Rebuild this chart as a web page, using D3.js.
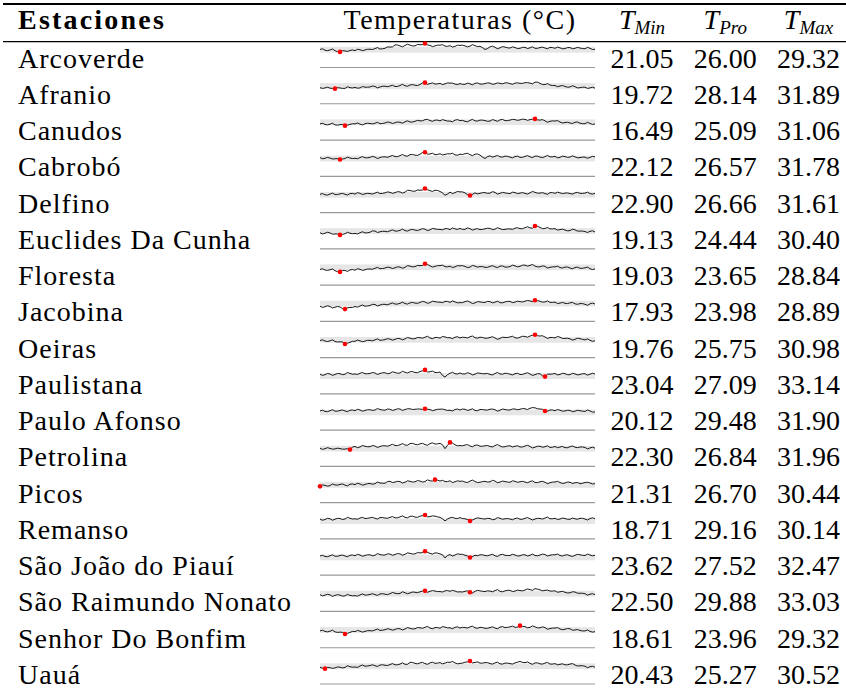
<!DOCTYPE html>
<html>
<head>
<meta charset="utf-8">
<script src="https://cdn.jsdelivr.net/npm/d3@7"></script>
<style>
  body { margin: 0; background: #fff; }
  svg { display: block; }
  text { font-family: "Liberation Serif", "Times New Roman", serif; fill: #000; }
</style>
</head>
<body>
<svg id="tbl" width="846" height="695"></svg>
<script>
const stations = ["Arcoverde", "Afranio", "Canudos", "Cabrobó", "Delfino", "Euclides Da Cunha",
	"Floresta", "Jacobina", "Oeiras", "Paulistana", "Paulo Afonso", "Petrolina", "Picos",
	"Remanso", "São João do Piauí", "São Raimundo Nonato", "Senhor Do Bonfim", "Uauá"];

const tMin = [21.05, 19.72, 16.49, 22.12, 22.90, 19.13, 19.03, 17.93, 19.76, 23.04, 20.12, 22.30, 21.31, 18.71, 23.62, 22.50, 18.61, 20.43];
const tPro = [26.00, 28.14, 25.09, 26.57, 26.66, 24.44, 23.65, 23.98, 25.75, 27.09, 29.48, 26.84, 26.70, 29.16, 27.52, 29.88, 23.96, 25.27];
const tMax = [29.32, 31.89, 31.06, 31.78, 31.61, 30.40, 28.84, 28.89, 30.98, 33.14, 31.90, 31.96, 30.44, 30.14, 32.47, 33.03, 29.32, 30.52];

// sparkline values, normalised 0..100
const series = [
	// Arcoverde
	[75,78,72,70,73,77,70,66,65,70,69,67,71,73,70,76,74,70,73,76,76,75,79,83,77,78,80,86,85,86,94,94,90,86,92,97,93,90,90,96,95,95,100,94,92,87,90,93,93,95,89,88,91,85,88,93,92,93,90,86,89,95,91,87,88,83,75,79,86,89,84,78,82,87,85,82,81,86,83,79,80,84,84,79,82,86,80,80,83,85,81,78,84,83,80,85,82,78,79,83,83,78,80,84,81,79,78,84,80,75,76],
	// Afranio
	[67,64,66,69,65,64,63,67,66,64,64,71,67,66,68,65,66,72,69,69,70,74,72,66,70,73,73,71,74,77,72,72,76,81,75,73,78,80,77,76,80,87,88,81,84,87,82,83,85,80,83,87,86,86,82,80,84,81,81,86,83,79,85,87,82,82,84,87,86,81,83,87,85,83,87,87,84,81,86,87,85,85,88,88,86,83,90,90,85,80,80,84,78,76,76,71,74,76,72,69,70,75,71,66,67,69,69,64,66,69,65],
	// Canudos
	[67,70,65,63,66,70,63,62,64,65,60,62,65,68,67,71,66,63,68,70,69,67,70,74,68,69,71,75,73,69,72,75,74,70,76,80,75,75,78,82,80,80,85,86,81,78,83,83,80,85,82,79,79,76,83,85,81,82,78,76,82,86,80,79,83,83,81,78,79,85,82,78,84,86,81,81,83,86,85,82,84,87,86,82,85,87,88,84,83,85,80,74,78,80,79,81,75,71,73,74,71,69,74,75,70,68,68,74,69,65,67],
	// Cabrobó
	[78,73,75,79,76,72,73,74,70,72,74,80,76,74,75,73,78,82,77,77,79,83,80,74,78,81,81,79,83,87,82,82,86,91,85,84,90,91,88,87,92,99,100,92,93,96,90,91,94,89,91,94,93,96,89,88,92,91,94,96,90,86,92,93,88,80,74,82,85,80,83,87,81,80,84,83,80,77,82,84,79,79,83,86,81,78,84,84,80,78,82,87,81,81,83,77,79,84,82,79,80,85,81,77,78,80,80,75,79,83,81],
	// Delfino
	[76,79,74,73,77,81,75,75,78,80,76,73,79,80,77,83,80,75,78,80,79,77,81,85,79,80,82,86,84,80,83,87,86,81,85,93,92,89,89,94,93,94,100,95,91,88,93,92,88,82,72,77,85,79,83,88,86,86,82,75,71,76,82,78,80,83,83,80,81,87,84,77,80,84,82,80,79,85,83,79,81,83,80,77,82,88,84,81,81,83,79,76,83,83,80,85,82,79,81,82,79,77,82,84,80,80,81,85,79,77,80],
	// Euclides Da Cunha
	[67,62,65,69,66,61,62,62,58,60,63,69,65,63,64,62,67,71,66,67,69,75,74,68,71,73,73,71,75,79,74,74,77,82,76,74,79,81,78,76,80,84,82,76,79,85,83,81,81,79,84,84,80,87,83,81,85,81,81,87,84,78,82,84,80,81,83,86,85,80,82,88,84,80,81,83,83,81,86,88,84,84,88,92,87,86,95,94,89,84,85,89,83,83,84,78,80,82,78,75,76,82,79,74,74,74,72,68,73,75,70],
	// Floresta
	[65,68,63,61,64,67,60,56,55,61,61,57,63,65,62,68,66,61,64,67,67,66,70,74,68,69,71,75,73,69,72,76,75,70,74,81,79,76,77,82,81,82,89,86,80,75,78,81,81,83,77,76,79,73,76,81,80,81,78,73,75,82,79,75,77,77,74,74,78,81,76,73,79,80,75,75,77,83,80,76,78,83,83,79,82,86,79,76,76,80,78,71,74,76,76,79,73,71,75,75,71,68,73,75,70,70,72,75,68,65,67],
	// Jacobina
	[63,58,61,65,62,56,59,62,60,53,51,56,58,58,62,59,64,68,63,64,66,71,70,64,68,71,71,69,73,77,72,72,75,80,74,72,77,79,76,75,79,83,81,75,78,84,82,80,80,78,83,83,79,85,81,77,78,78,82,85,80,74,77,82,81,79,79,83,82,77,80,84,78,77,81,83,83,78,80,84,82,81,84,87,85,82,88,86,84,80,81,85,79,79,80,74,76,79,75,74,77,79,73,71,74,74,71,67,73,76,72],
	// Oeiras
	[71,74,69,67,70,74,67,65,66,65,57,60,64,68,68,73,70,66,69,72,72,70,74,78,72,73,75,79,77,73,76,80,79,74,78,84,81,78,79,84,83,81,85,89,82,79,84,84,81,88,86,83,83,79,85,87,82,85,84,82,87,90,83,81,85,84,81,81,84,87,82,76,80,85,84,84,86,89,83,81,85,89,88,85,90,93,95,91,90,91,86,80,84,84,82,88,85,80,80,81,78,73,76,81,79,76,74,78,72,68,70],
	// Paulistana
	[82,77,80,85,83,77,81,85,84,80,82,89,85,82,83,81,86,89,84,84,85,89,87,81,85,88,88,84,86,92,89,86,87,94,90,87,92,93,89,88,93,96,100,91,92,95,89,89,91,77,70,80,86,90,84,83,87,83,83,88,85,79,82,87,86,84,84,85,81,79,85,89,83,82,86,85,82,79,84,86,81,81,85,88,83,77,80,84,84,75,72,82,82,83,85,79,81,86,84,80,80,86,83,79,81,84,84,78,82,86,83],
	// Paulo Afonso
	[80,83,78,77,81,85,79,79,82,84,80,77,83,84,81,87,84,79,82,85,85,82,84,90,86,84,83,88,87,82,85,89,88,82,86,89,89,86,87,88,88,86,89,87,86,81,84,87,87,88,85,82,83,80,86,88,84,88,87,82,85,89,82,81,86,86,84,84,87,88,85,79,83,88,86,84,84,88,88,85,87,90,89,86,91,94,93,89,88,87,80,79,84,84,81,86,83,79,80,83,82,77,79,83,81,79,78,84,80,75,76],
	// Petrolina
	[76,71,74,78,75,72,73,76,74,72,72,74,70,81,83,78,81,87,84,82,82,87,85,79,83,86,86,84,88,92,87,87,90,95,89,88,95,96,92,90,94,96,91,88,95,98,93,94,96,90,74,88,100,97,90,86,87,86,89,91,85,82,88,89,84,84,86,87,83,81,87,91,85,81,82,85,86,81,84,86,81,81,85,88,83,77,80,84,84,80,82,86,79,80,83,78,81,83,78,78,82,85,80,78,81,81,79,73,77,80,76],
	// Picos
	[68,74,72,69,71,78,74,73,76,78,73,70,77,78,75,81,78,73,76,79,80,77,79,86,82,81,81,88,89,84,86,89,88,82,85,91,89,86,87,92,90,86,88,95,91,90,96,94,90,93,88,88,91,84,87,91,89,90,86,84,90,94,88,84,85,88,89,86,87,93,90,83,86,90,88,86,85,91,89,85,87,89,86,83,88,91,84,84,87,89,85,79,83,86,86,89,84,80,82,86,85,80,83,84,79,81,84,85,82,78,79],
	// Remanso
	[83,78,81,86,84,78,82,86,85,81,83,90,86,83,84,82,87,90,85,86,88,90,86,83,89,89,87,86,90,93,88,88,92,96,90,88,94,95,91,90,95,97,100,92,93,96,95,92,90,84,75,83,88,90,86,85,89,85,84,81,75,79,84,88,86,84,83,86,85,80,82,89,86,82,84,85,83,80,85,87,82,82,86,89,84,79,83,86,85,83,87,91,84,84,86,81,83,87,85,82,82,87,84,82,86,86,83,79,85,88,84],
	// São João do Piauí
	[80,83,78,77,81,85,79,79,82,84,80,77,83,84,81,87,84,79,82,85,85,81,83,90,86,84,84,89,88,83,86,90,89,83,87,93,91,88,89,94,93,94,100,95,91,88,93,92,89,85,72,82,86,80,84,89,87,87,83,80,74,78,83,81,85,85,82,81,84,87,81,78,85,87,83,82,82,87,84,80,81,85,85,80,83,88,82,81,84,88,86,80,83,85,85,88,82,80,84,85,81,78,83,87,85,83,82,88,84,81,83],
	// São Raimundo Nonato
	[70,65,68,72,69,63,67,70,68,64,65,71,67,65,66,64,69,73,68,69,71,74,70,67,73,74,72,70,74,79,76,74,75,82,78,74,77,81,80,78,82,85,86,80,84,87,85,83,83,81,86,87,84,88,85,81,82,81,84,86,80,77,84,88,86,84,83,86,85,82,87,91,84,82,86,88,88,83,85,89,87,86,89,94,91,88,95,93,90,86,88,89,85,85,86,80,82,84,80,77,78,82,81,76,76,76,74,68,72,74,70],
	// Senhor Do Bonfim
	[70,73,68,66,69,73,66,64,65,64,57,60,64,68,67,72,69,65,68,71,71,70,74,78,72,73,75,79,77,73,76,80,79,74,78,84,81,78,79,84,83,81,85,89,82,79,84,84,81,88,86,83,83,79,85,87,82,85,84,82,87,90,83,81,85,84,81,81,84,87,82,79,86,88,84,85,87,90,85,86,92,89,88,83,85,91,87,83,83,87,84,77,80,82,82,84,78,75,77,80,79,73,74,76,72,70,70,74,68,65,67],
	// Uauá
	[70,66,64,69,68,65,67,71,70,67,69,76,72,70,71,69,75,79,74,75,77,80,76,73,79,80,78,77,81,85,80,80,83,88,82,82,90,90,86,84,88,90,85,82,88,91,86,87,89,84,87,91,90,94,88,84,86,87,91,92,96,88,90,92,87,87,89,89,85,83,88,91,84,83,87,87,85,83,88,91,94,90,89,92,86,82,88,88,84,83,87,90,83,83,85,80,82,84,80,80,83,85,79,75,76,76,74,68,72,74,70]
];

// indices of the red dots (low / high points)
const lowIdx  = [8, 6, 10, 8, 60, 8, 8, 10, 10, 90, 90, 12, 0, 60, 60, 60, 10, 2];
const highIdx = [42, 42, 86, 42, 42, 86, 42, 86, 86, 42, 42, 52, 46, 42, 42, 42, 80, 60];

// grey reference band of each sparkline
const bandLow = 62;
const bandHigh = 86;

const headers = ["Min", "Pro", "Max"];

const W = 846, H = 695;
const svg = d3.select("#tbl");

svg.append("rect").attr("width", W).attr("height", H).attr("fill", "#fff");

// row positions (baselines)
const rowY = d3.scaleLinear().domain([0, stations.length - 1]).range([67.5, 684]);
const nPts = series[0].length;
const xSpark = d3.scaleLinear().domain([0, nPts - 1]).range([320, 595]);
const ySpark = d3.scaleLinear().domain([0, 100]).range([0, -24]);
const colX = d3.scalePoint().domain(headers).range([642, 808.5]);

const fs = 28;

// rules
svg.append("line")
	.attr("x1", 3).attr("x2", W).attr("y1", 4).attr("y2", 4)
	.attr("stroke", "#000").attr("stroke-width", 2);
svg.append("line")
	.attr("x1", 3).attr("x2", W).attr("y1", 41.7).attr("y2", 41.7)
	.attr("stroke", "#000").attr("stroke-width", 1.3);

// header
svg.append("text")
	.attr("x", 18).attr("y", 29)
	.attr("font-size", fs).attr("font-weight", "bold")
	.attr("letter-spacing", 2.2)
	.text("Estaciones");

svg.append("text")
	.attr("x", 460).attr("y", 29)
	.attr("font-size", fs).attr("text-anchor", "middle")
	.attr("letter-spacing", 1.5)
	.text("Temperaturas (°C)");

headers.forEach(h => {
	const t = svg.append("text")
		.attr("x", colX(h)).attr("y", 29)
		.attr("font-size", fs).attr("text-anchor", "middle")
		.attr("font-style", "italic");
	t.append("tspan").text("T");
	t.append("tspan").attr("font-size", 19).attr("dy", 5).text(h);
});

// body rows
const rows = svg.selectAll("g.row")
	.data(stations)
	.enter()
	.append("g")
	.attr("class", "row")
	.attr("transform", (d, i) => `translate(0, ${rowY(i)})`);

rows.append("text")
	.attr("x", 18).attr("y", 0)
	.attr("font-size", fs)
	.attr("letter-spacing", 1)
	.text(d => d);

// band
rows.append("rect")
	.attr("x", xSpark(0))
	.attr("y", ySpark(bandHigh))
	.attr("width", xSpark(nPts - 1) - xSpark(0))
	.attr("height", ySpark(bandLow) - ySpark(bandHigh))
	.attr("fill", "#e6e6e6");

// bottom line of sparkline
rows.append("line")
	.attr("x1", xSpark(0)).attr("x2", xSpark(nPts - 1))
	.attr("y1", ySpark(0)).attr("y2", ySpark(0))
	.attr("stroke", "#999").attr("stroke-width", 1.2);

const line = d3.line()
	.x((d, i) => xSpark(i))
	.y(d => ySpark(d));

rows.append("path")
	.attr("d", (d, i) => line(series[i]))
	.attr("fill", "none")
	.attr("stroke", "#000")
	.attr("stroke-width", 0.9);

rows.each(function (d, i) {
	const g = d3.select(this);
	[lowIdx[i], highIdx[i]].forEach(k => {
		g.append("circle")
			.attr("cx", xSpark(k))
			.attr("cy", ySpark(series[i][k]))
			.attr("r", 2.3)
			.attr("fill", "#ff0000");
	});
});

// numbers
const cols = [tMin, tPro, tMax];
cols.forEach((arr, c) => {
	rows.append("text")
		.attr("x", colX(headers[c]))
		.attr("y", 0)
		.attr("font-size", fs)
		.attr("text-anchor", "middle")
		.text((d, i) => arr[i].toFixed(2));
});
</script>
</body>
</html>
